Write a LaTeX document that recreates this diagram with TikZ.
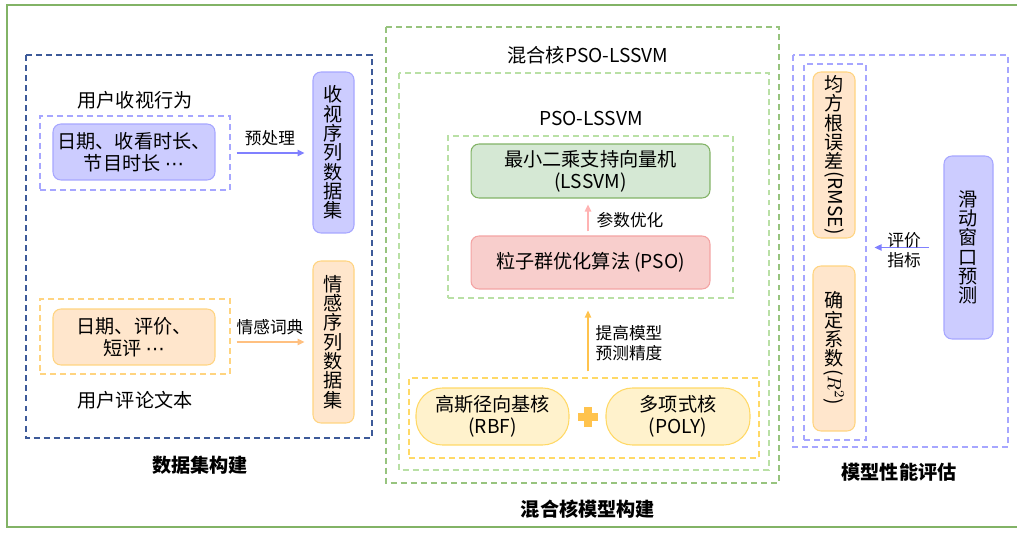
\documentclass[tikz,border=0pt]{standalone}
\usepackage{fontspec}
\setmainfont{Noto Sans CJK SC}
\newfontfamily\dotsf{DejaVu Sans}
\usepackage{graphicx}
\usetikzlibrary{arrows.meta}
\definecolor{purpF}{HTML}{CCCCFF}
\definecolor{purpD}{HTML}{A6A6FF}
\definecolor{purpA}{HTML}{8080FF}
\definecolor{orF}{HTML}{FFE6CC}
\definecolor{orD}{HTML}{FFD480}
\definecolor{orA}{HTML}{FFC080}
\definecolor{grF}{HTML}{D5E8D4}
\definecolor{grD}{HTML}{82B366}
\definecolor{grDash}{HTML}{97C47E}
\definecolor{grLight}{HTML}{B9E0A5}
\definecolor{pkF}{HTML}{F8CECC}
\definecolor{pkD}{HTML}{F4A3A3}
\definecolor{pkA}{HTML}{FFB3B3}
\definecolor{ylF}{HTML}{FFF2CC}
\definecolor{ylD}{HTML}{FFD966}
\definecolor{goldA}{HTML}{FFC34D}
\definecolor{blueD}{HTML}{3D5A99}
\definecolor{outerG}{HTML}{82B366}
\newcommand{\mainsz}{\fontsize{10.9pt}{12.5pt}\selectfont}
\newcommand{\vsz}{\fontsize{10.9pt}{11pt}\selectfont}
\newcommand{\lblsz}{\fontsize{9.5pt}{11.3pt}\selectfont}
\newcommand{\rotlat}[1]{\rotatebox[origin=c]{-90}{#1}}
\newcommand{\cdotsx}{{\dotsf ⋯}}
\tikzset{
  box/.style={draw, rounded corners=4.5pt, line width=0.6pt, align=center, inner sep=0pt, font=\mainsz},
  vbox/.style={draw, rounded corners=4.5pt, line width=0.6pt, align=center, inner sep=0pt, font=\vsz},
  pill/.style={draw, rounded corners=15pt, line width=0.6pt, align=center, inner sep=0pt, font=\mainsz},
  grp/.style={draw, dashed, dash pattern=on 3.4pt off 2.3pt, line width=0.7pt, inner sep=0pt},
  txt/.style={font=\mainsz, inner sep=1pt},
  lbl/.style={font=\lblsz, inner sep=1pt, align=center},
  ttl/.style={font=\mainsz\bfseries, inner sep=1pt},
  arr/.style={-{Triangle[length=4pt,width=3.6pt]}, line width=0.8pt},
  dsh/.style={dashed, dash pattern=on 3.4pt off 2.3pt, line width=0.75pt}
}
\begin{document}
\begin{tikzpicture}[x=0.02cm,y=-0.02cm]
\useasboundingbox (0,0) rectangle (1017,533);
\fill[white] (0,0) rectangle (1017,533);
\draw[outerG, line width=1.2pt] (7,5) rectangle (1040,527);

% ---------- left ----------
\draw[dsh, blueD] (26,55) rectangle (372,438);
\node[txt] (t1) at (135,100) {用户收视行为};
\node[grp, draw=purpD, minimum width=3.8cm, minimum height=1.48cm] (g1) at (135,153) {};
\node[box, fill=purpF, draw=purpD, minimum width=3.24cm, minimum height=1.12cm] (b1) at (134,152) {日期、收看时长、\\节目时长 \cdotsx};
\node[vbox, fill=purpF, draw=purpD, minimum width=0.82cm, minimum height=3.22cm] (v1) at (333.5,152.5) {收\\视\\序\\列\\数\\据\\集};
\draw[arr, purpA, shorten <=3.4pt, shorten >=4.5pt] (g1.east) -- (v1.west |- g1.east);
\node[lbl] (l1) at (270,138) {预处理};

\node[grp, draw=orD, minimum width=3.8cm, minimum height=1.5cm] (g2) at (135,336.5) {};
\node[box, fill=orF, draw=orD, minimum width=3.24cm, minimum height=1.12cm] (b2) at (134,337) {日期、评价、\\短评 \cdotsx};
\node[vbox, fill=orF, draw=orD, minimum width=0.82cm, minimum height=3.24cm] (v2) at (333.5,342) {情\\感\\序\\列\\数\\据\\集};
\draw[arr, orA, shorten <=3.4pt, shorten >=4.5pt] (g2.east |- v2.west) -- (v2.west);
\node[lbl] (l2) at (270,327) {情感词典};
\node[txt] (t2) at (135,400) {用户评论文本};
\node[ttl] (T1) at (200,465) {数据集构建};

% ---------- middle ----------
\draw[dsh, grDash] (386,27) rectangle (779,483);
\node[txt] (t3) at (588,55) {混合核PSO-LSSVM};
\draw[dsh, grLight] (399,73) rectangle (769,470);
\node[txt] (t4) at (591,118) {PSO-LSSVM};
\node[grp, draw=grLight, minimum width=5.7cm, minimum height=3.24cm] (g3) at (590.5,217) {};
\node[box, fill=grF, draw=grD, minimum width=4.78cm, minimum height=1.08cm] (b3) at (590.5,171) {最小二乘支持向量机\\(LSSVM)};
\node[box, fill=pkF, draw=pkD, minimum width=4.78cm, minimum height=1.06cm] (b4) at (590.5,262.5) {粒子群优化算法 (PSO)};
\coordinate (ax) at (588,0);
\draw[arr, pkA, shorten <=2.3pt, shorten >=3.4pt] (b4.north -| ax) -- (b3.south -| ax);
\node[lbl] (l3) at (630,220) {参数优化};
\node[grp, draw=ylD, minimum width=7cm, minimum height=1.6cm] (g4) at (584,418) {};
\node[pill, fill=ylF, draw=ylD, minimum width=3.06cm, minimum height=1.14cm] (e1) at (492.5,416.5) {高斯径向基核\\(RBF)};
\node[pill, fill=ylF, draw=ylD, minimum width=2.88cm, minimum height=1.14cm] (e2) at (678,416.5) {多项式核\\(POLY)};
\draw[goldA, line width=4pt] (578,417) -- (598,417) (588,407) -- (588,427);
\draw[arr, goldA, shorten <=3.4pt, shorten >=6.8pt] (g4.north -| ax) -- (g3.south -| ax);
\node[lbl] (l4) at (629,343) {提高模型\\预测精度};
\node[ttl] (T2) at (588,509) {混合核模型构建};

% ---------- right ----------
\draw[dsh, purpD] (793,55) rectangle (1008,447);
\node[grp, draw=purpD, minimum width=1.24cm, minimum height=7.52cm] (g5) at (835,252) {};
\node[vbox, fill=orF, draw=orD, minimum width=0.84cm, minimum height=3.32cm] (r1) at (834,155) {均\\方\\根\\误\\差\\\rotlat{(RMSE)}};
\node[vbox, fill=orF, draw=orD, minimum width=0.84cm, minimum height=3.3cm] (r2) at (834,348.5) {确\\定\\系\\数\\\rotlat{(\(R^{2}\))}};
\node[vbox, fill=purpF, draw=purpD, minimum width=0.98cm, minimum height=3.66cm] (p1) at (968.5,247.5) {滑\\动\\窗\\口\\预\\测};
\draw[arr, purpA, shorten <=8.5pt, shorten >=4.5pt] (p1.west) -- (g5.east |- p1.west);
\node[lbl] (l5) at (904,250) {评价\\指标};
\node[ttl] (T3) at (899,472) {模型性能评估};
\end{tikzpicture}
\end{document}
